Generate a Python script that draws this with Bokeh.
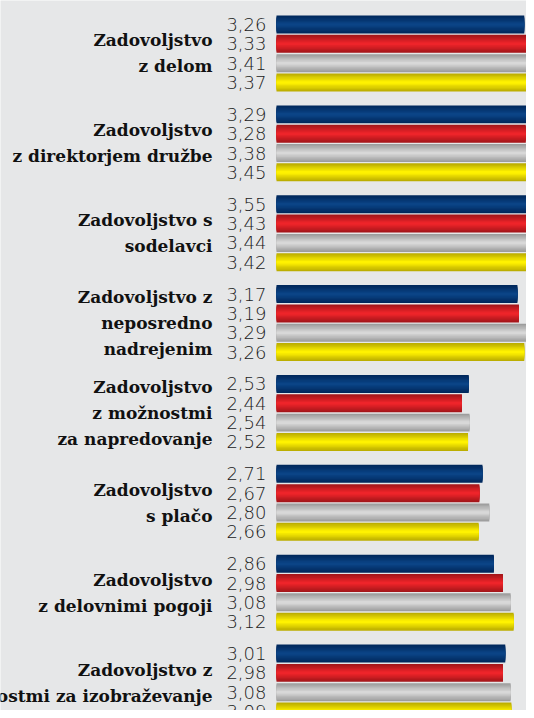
from bokeh.plotting import figure
from bokeh.models import Range1d, ColumnDataSource
from bokeh.core.properties import value
from bokeh.embed import file_html
from bokeh.resources import INLINE

categories = [
    "Zadovoljstvo\nz delom",
    "Zadovoljstvo\nz direktorjem družbe",
    "Zadovoljstvo s\nsodelavci",
    "Zadovoljstvo z\nneposredno\nnadrejenim",
    "Zadovoljstvo\nz možnostmi\nza napredovanje",
    "Zadovoljstvo\ns plačo",
    "Zadovoljstvo\nz delovnimi pogoji",
    "Zadovoljstvo z\nmožnostmi za izobraževanje",
]
series_blue = [3.26, 3.29, 3.55, 3.17, 2.53, 2.71, 2.86, 3.01]
series_red = [3.33, 3.28, 3.43, 3.19, 2.44, 2.67, 2.98, 2.98]
series_gray = [3.41, 3.38, 3.44, 3.29, 2.54, 2.80, 3.08, 3.08]
series_yellow = [3.37, 3.45, 3.42, 3.26, 2.52, 2.66, 3.12, 3.09]

series = [series_blue, series_red, series_gray, series_yellow]
edge_colors = ["#00285c", "#a5161a", "#9d9d9d", "#bcae00"]
mid_colors = ["#0b4486", "#ee242a", "#d8d8d8", "#fff200"]

BG = "#e6e7e8"
W, H = 526, 710
X0 = 276.0        # canvas px of value 0
PX_PER_UNIT = 76.0
U = 19.33         # px per bar slot
GROUP_GAP = 0.649
Y0 = 24.0         # canvas px of first bar centre
BAR_H = 0.93

p = figure(width=W, height=H, output_backend="svg", toolbar_location=None,
           x_range=Range1d(-X0 / PX_PER_UNIT, (W - X0) / PX_PER_UNIT),
           y_range=Range1d((H - Y0) / U, -Y0 / U),
           min_border=0, background_fill_color=BG, border_fill_color=BG)
p.axis.visible = False
p.grid.visible = False
p.outline_line_color = None


def mix(c1, c2, t):
    a = [int(c1[i:i + 2], 16) for i in (1, 3, 5)]
    b = [int(c2[i:i + 2], 16) for i in (1, 3, 5)]
    return "#%02x%02x%02x" % tuple(round(a[k] + (b[k] - a[k]) * t) for k in range(3))


NL = 7
pitch = 4 + GROUP_GAP
for j, vals in enumerate(series):
    ys = [i * pitch + j for i in range(len(vals))]
    src = ColumnDataSource(dict(y=ys, right=vals,
                                label=[("%.2f" % v).replace(".", ",") for v in vals]))
    for k in range(NL):
        t = k / (NL - 1)
        p.hbar(y="y", left=0, right="right", height=BAR_H * (1 - k / NL), source=src,
               fill_color=mix(edge_colors[j], mid_colors[j], t), line_color=None)
    p.text(x=0, y="y", text="label", source=src, x_offset=-10,
           text_align="right", text_baseline="middle",
           text_font=value("DejaVu Sans Light, DejaVu Sans ExtraLight, Lato Light, Lato"),
           text_font_size="18px", text_color="#1a1a1a")

csrc = ColumnDataSource(dict(y=[i * pitch + 1.5 for i in range(len(categories))],
                             text=categories))
p.text(x=0, y="y", text="text", source=csrc, x_offset=-64,
       text_align="right", text_baseline="middle",
       text_font=value("DejaVu Serif"), text_font_style="bold",
       text_font_size="17px", text_line_height=1.3, text_color="#111111")

open("out.html", "w").write(file_html(p, INLINE))
